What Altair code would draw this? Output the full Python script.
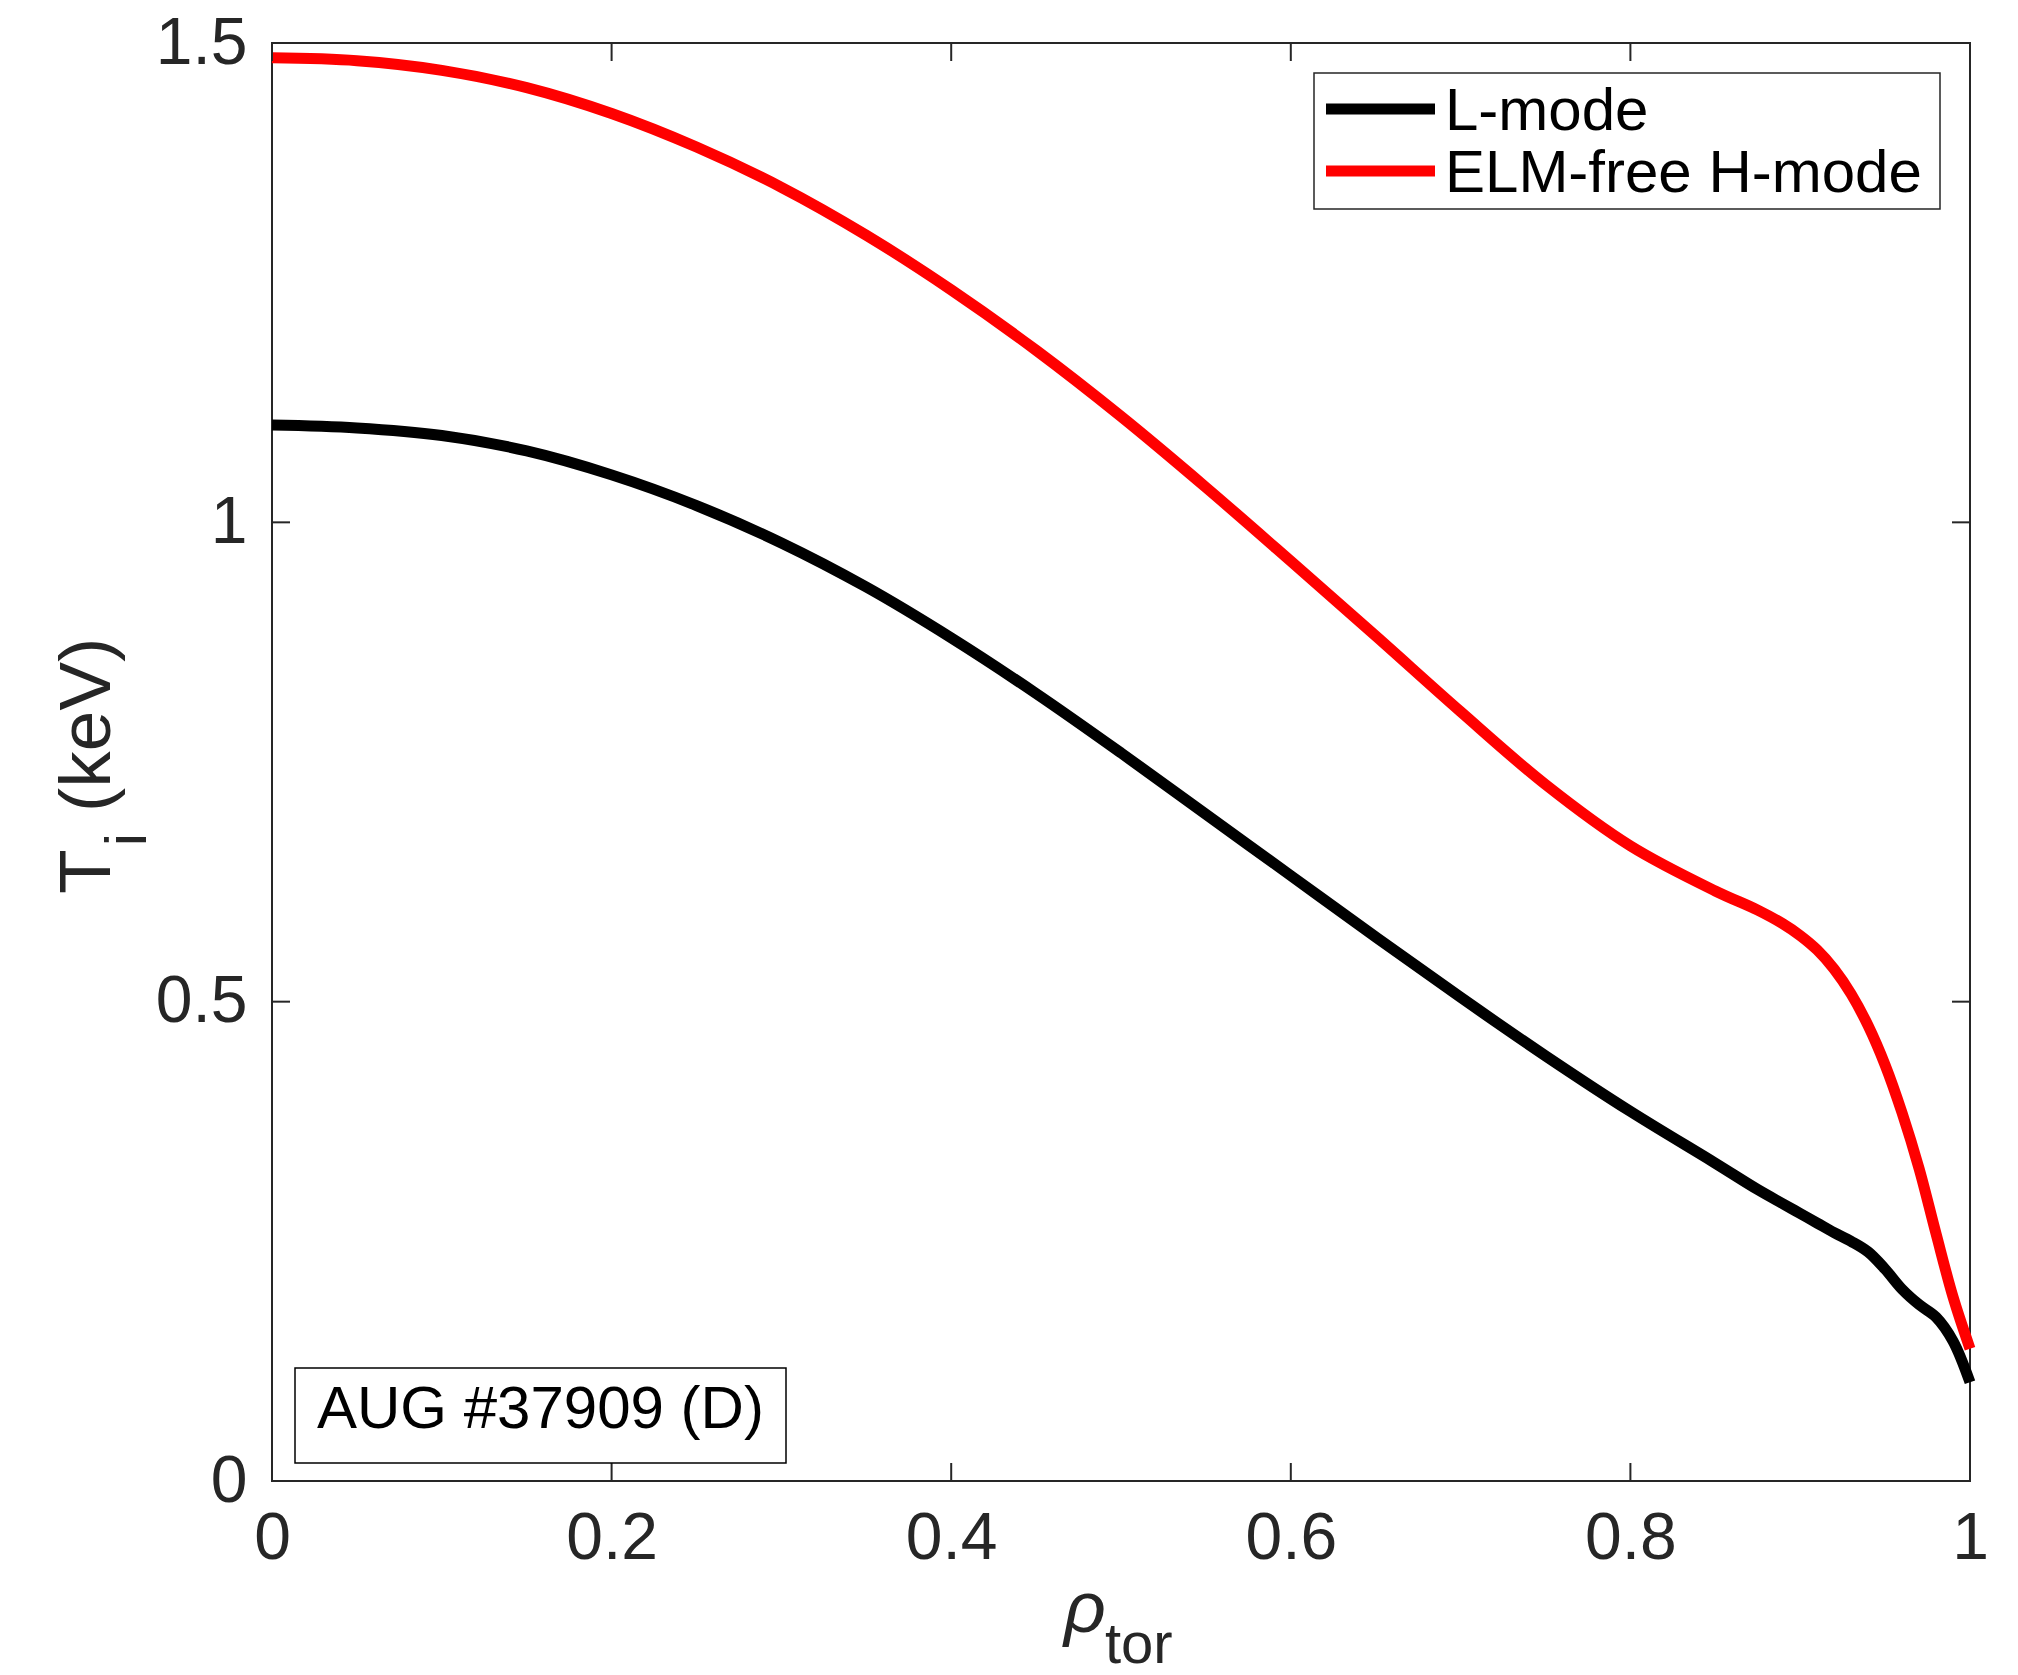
import altair as alt
import pandas as pd

# ---- data ----
rho = [0.0, 0.05, 0.10, 0.15, 0.20, 0.25, 0.30, 0.35, 0.40, 0.45, 0.50, 0.55,
       0.60, 0.65, 0.70, 0.75, 0.80, 0.85, 0.875, 0.89, 0.90, 0.91, 0.92,
       0.93, 0.94, 0.95, 0.96, 0.97, 0.98, 0.99, 1.00]
ti_lmode = [1.1015, 1.0985, 1.0905, 1.0745, 1.0495, 1.0175, 0.9785, 0.9325,
            0.8795, 0.8215, 0.7595, 0.6955, 0.6315, 0.5675, 0.5045, 0.4435,
            0.3855, 0.3315, 0.304, 0.289, 0.279, 0.269, 0.259, 0.250, 0.239,
            0.221, 0.200, 0.184, 0.171, 0.146, 0.103]
ti_hmode = [1.4845, 1.4815, 1.4715, 1.4535, 1.4265, 1.3915, 1.3495, 1.2995,
            1.2425, 1.1795, 1.1105, 1.0365, 0.9595, 0.8815, 0.8025, 0.7265,
            0.6625, 0.6155, 0.5955, 0.581, 0.569, 0.554, 0.534, 0.508, 0.475,
            0.434, 0.384, 0.326, 0.258, 0.192, 0.138]

series_names = ["L-mode", "ELM-free H-mode"]
series_colors = ["#000000", "#ff0000"]
x_ticks = [0, 0.2, 0.4, 0.6, 0.8, 1.0]
y_ticks = [0, 0.5, 1.0, 1.5]
annotation = "AUG #37909 (D)"

W, H = 1698, 1438
FONT = "Liberation Sans"
AX = "#262626"
LW = 11

rows = []
for r, a, b in zip(rho, ti_lmode, ti_hmode):
    rows.append({"rho": r, "Ti": a, "series": series_names[0]})
    rows.append({"rho": r, "Ti": b, "series": series_names[1]})
df = pd.DataFrame(rows)

xscale = alt.Scale(domain=[0, 1], nice=False, zero=False)
yscale = alt.Scale(domain=[0, 1.5], nice=False, zero=False)

lines = alt.Chart(df).mark_line(strokeWidth=LW, interpolate="catmull-rom").encode(
    x=alt.X("rho:Q", scale=xscale,
            axis=alt.Axis(values=x_ticks, format="~g", title=None, labelFlush=False)),
    y=alt.Y("Ti:Q", scale=yscale,
            axis=alt.Axis(values=y_ticks, format="~g", title=None, labelFlush=False)),
    color=alt.Color("series:N",
                    scale=alt.Scale(domain=series_names, range=series_colors),
                    legend=None),
)

# inward ticks (MATLAB style) on all four sides
xt = pd.DataFrame({"v": x_ticks})
yt = pd.DataFrame({"v": y_ticks})
TL = 18
tick_style = dict(color=AX, strokeWidth=2)
xb = alt.Chart(xt).mark_rule(**tick_style).encode(
    x=alt.X("v:Q", scale=xscale), y=alt.value(H), y2=alt.value(H - TL))
xtop = alt.Chart(xt).mark_rule(**tick_style).encode(
    x=alt.X("v:Q", scale=xscale), y=alt.value(0), y2=alt.value(TL))
yl = alt.Chart(yt).mark_rule(**tick_style).encode(
    y=alt.Y("v:Q", scale=yscale), x=alt.value(0), x2=alt.value(TL))
yr = alt.Chart(yt).mark_rule(**tick_style).encode(
    y=alt.Y("v:Q", scale=yscale), x=alt.value(W), x2=alt.value(W - TL))

one = pd.DataFrame({"a": [0]})

def txt(text, x, y, size, angle=0, italic=False, color=AX):
    kw = dict(text=text, font=FONT, fontSize=size, align="left",
              baseline="alphabetic", color=color)
    if angle:
        kw["angle"] = angle
    if italic:
        kw["fontStyle"] = "italic"
    return alt.Chart(one).mark_text(**kw).encode(x=alt.value(x), y=alt.value(y))

# axis titles
ytitle = [txt("T", -162, 851, 73, angle=270),
          txt("i", -126, 803, 58, angle=270),
          txt("(keV)", -162, 769, 73, angle=270)]
xtitle = [txt("\u03c1", 792, H + 151, 73, italic=True),
          txt("tor", 833, H + 182, 58)]

# legend box
leg_box = alt.Chart(one).mark_rect(fill="white", stroke=AX, strokeWidth=1.5).encode(
    x=alt.value(1042), x2=alt.value(1668), y=alt.value(30), y2=alt.value(166))
leg = [leg_box]
for i, (name, col) in enumerate(zip(series_names, series_colors)):
    ly = 66 + 62 * i
    leg.append(alt.Chart(one).mark_rule(strokeWidth=LW, color=col).encode(
        x=alt.value(1054), x2=alt.value(1163), y=alt.value(ly)))
    leg.append(txt(name, 1173, ly + 21, 60, color="#000000"))

# annotation box
ann_box = alt.Chart(one).mark_rect(fill="white", stroke="#000000", strokeWidth=1.5).encode(
    x=alt.value(23), x2=alt.value(514), y=alt.value(1325), y2=alt.value(1420))
ann = [ann_box, txt(annotation, 45, 1385, 60, color="#000000")]

chart = alt.layer(lines, xb, xtop, yl, yr, *ytitle, *xtitle, *leg, *ann).properties(
    width=W, height=H,
    padding={"left": 272, "top": 43, "right": 48, "bottom": 194},
    autosize=alt.AutoSizeParams(type="none"),
    background="white",
).configure_view(
    stroke=AX, strokeWidth=2
).configure_axis(
    labelFont=FONT, labelFontSize=66, labelColor=AX,
    tickSize=0, domain=False, grid=False, labelPadding=25,
)

chart.save("out.html", embed_options={"renderer": "svg", "actions": False})
